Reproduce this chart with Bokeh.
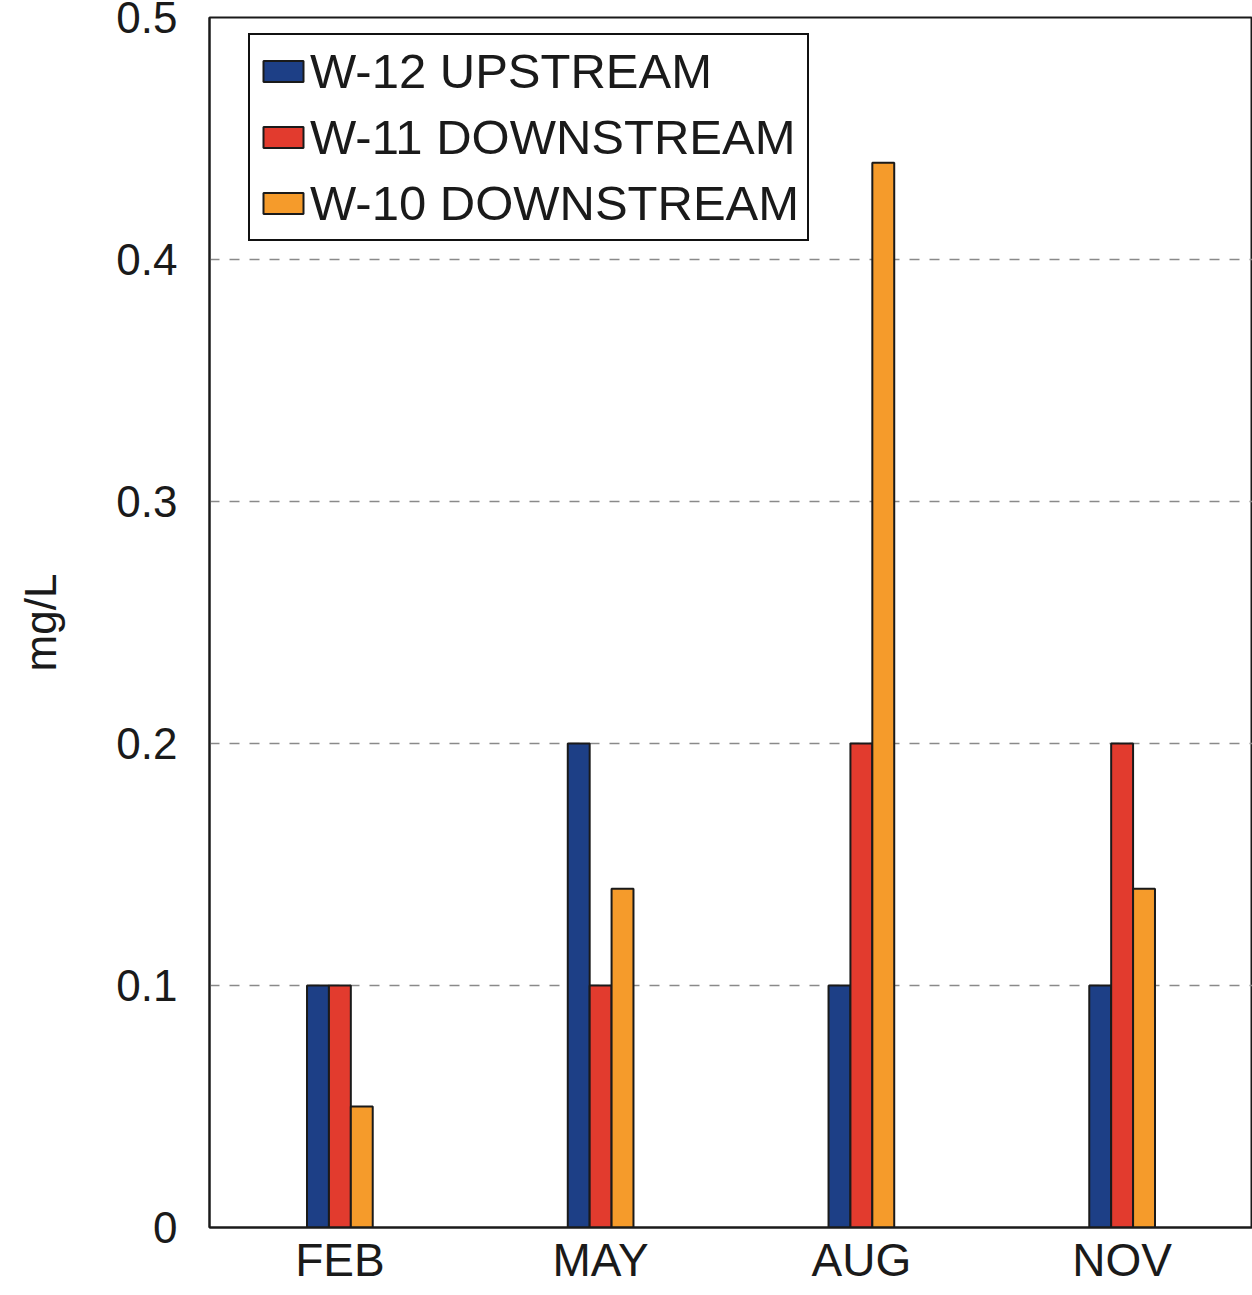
from bokeh.plotting import figure
from bokeh.models import ColumnDataSource, FactorRange, Legend, LegendItem, FixedTicker
from bokeh.transform import dodge
from bokeh.embed import file_html
from bokeh.resources import INLINE

months = ["FEB", "MAY", "AUG", "NOV"]
w12_upstream = [0.10, 0.20, 0.10, 0.10]
w11_downstream = [0.10, 0.10, 0.20, 0.20]
w10_downstream = [0.05, 0.14, 0.44, 0.14]
series_names = ["W-12 UPSTREAM", "W-11 DOWNSTREAM", "W-10 DOWNSTREAM"]
y_ticks = [0, 0.1, 0.2, 0.3, 0.4, 0.5]

source = ColumnDataSource(dict(month=months, w12=w12_upstream, w11=w11_downstream, w10=w10_downstream))

FONT = "Liberation Sans"
p = figure(x_range=FactorRange(*months), y_range=(0, 0.5),
           width=1252, height=1295, output_backend="svg", toolbar_location=None,
           min_border_left=209, min_border_right=0, min_border_top=17, min_border_bottom=68)
p.background_fill_color = "white"
p.border_fill_color = "white"

colors = ["#1d3f86", "#e23b2e", "#f59b2b"]
bw = 0.084
r1 = p.vbar(x=dodge("month", -bw, range=p.x_range), top="w12", width=bw, source=source,
            fill_color=colors[0], line_color="#1a1a1a", line_width=2)
r2 = p.vbar(x=dodge("month", 0, range=p.x_range), top="w11", width=bw, source=source,
            fill_color=colors[1], line_color="#1a1a1a", line_width=2)
r3 = p.vbar(x=dodge("month", bw, range=p.x_range), top="w10", width=bw, source=source,
            fill_color=colors[2], line_color="#1a1a1a", line_width=2)

p.outline_line_color = "#1a1a1a"
p.outline_line_width = 2
p.xgrid.grid_line_color = None
p.ygrid.grid_line_color = "#8a8a8a"
p.ygrid.grid_line_dash = "10 10"
p.ygrid.grid_line_width = 1.5
p.yaxis.ticker = FixedTicker(ticks=y_ticks)
p.yaxis.major_label_overrides = {0: "0", 0.1: "0.1", 0.2: "0.2", 0.3: "0.3", 0.4: "0.4", 0.5: "0.5"}

for ax in (p.xaxis[0], p.yaxis[0]):
    ax.major_tick_line_color = None
    ax.minor_tick_line_color = None
    ax.axis_line_color = "#1a1a1a"
    ax.axis_line_width = 2
    ax.major_label_text_font = FONT
    ax.major_label_text_color = "#1a1a1a"
    ax.axis_label_text_font = FONT
    ax.axis_label_text_font_style = "normal"
    ax.axis_label_text_color = "#1a1a1a"

p.yaxis.major_label_text_font_size = "44px"
p.yaxis.major_label_standoff = 26
p.yaxis.axis_label = "mg/L"
p.yaxis.axis_label_text_font_size = "44px"
p.yaxis.axis_label_standoff = 48
p.xaxis.major_label_text_font_size = "46px"
p.xaxis.major_label_standoff = 0

legend = Legend(items=[LegendItem(label=series_names[0], renderers=[r1]),
                       LegendItem(label=series_names[1], renderers=[r2]),
                       LegendItem(label=series_names[2], renderers=[r3])],
                location=(39, 986))
legend.label_text_font = FONT
legend.label_text_font_size = "49px"
legend.label_text_color = "#1a1a1a"
legend.glyph_width = 50
legend.glyph_height = 26
legend.label_standoff = 2
legend.label_height = 56
legend.spacing = 10
legend.padding = 8
legend.margin = 0
legend.border_line_color = "#111111"
legend.border_line_width = 2.5
legend.border_line_alpha = 1
legend.background_fill_alpha = 1
p.add_layout(legend)

open("out.html", "w").write(file_html(p, INLINE))
